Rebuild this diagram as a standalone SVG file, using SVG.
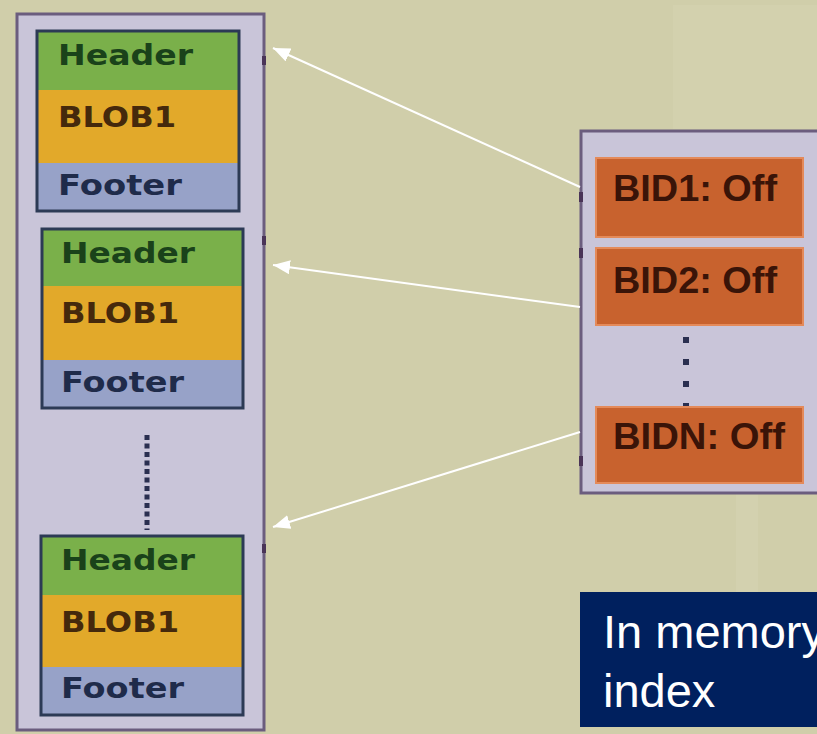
<svg xmlns="http://www.w3.org/2000/svg" width="817" height="734" viewBox="0 0 817 734">
<defs>
<marker id="ah" markerUnits="userSpaceOnUse" markerWidth="18" markerHeight="14" refX="17" refY="7" orient="auto">
<path d="M0,0 L17,7 L0,14 z" fill="#FFFFFF"/>
</marker>
</defs>
<style>
.cont{fill:#C9C5D9;stroke:#6B5D7E;stroke-width:3}
.hdr{fill:#7AB04A}
.blob{fill:#E2A92A}
.ftr{fill:#97A2C8}
.frame{fill:none;stroke:#2C3A55;stroke-width:3}
.t{font-family:"DejaVu Sans",sans-serif;font-weight:bold;font-size:29px}
.th{fill:#1A421A}
.tb{fill:#45290C}
.tf{fill:#1F2B4A}
.bid{fill:#C8622E;stroke:#E48A5A;stroke-width:2}
.tbid{font-family:"Liberation Sans",Arial,sans-serif;font-weight:bold;font-size:36px;fill:#3A1408}
.conn{stroke:#FFFFFF;stroke-width:2;fill:none}
.tick{fill:#4A3458}
</style>
<rect width="817" height="734" fill="#D0CEAA"/>
<rect x="673" y="5" width="144" height="124" fill="#D3D1AE"/>
<rect x="736" y="494" width="22" height="98" fill="#D3D1AF"/>

<g id="storage">
<rect class="cont" x="17" y="14" width="247" height="716"/>
<rect class="tick" x="262" y="56" width="4" height="9"/>
<rect class="tick" x="262" y="236" width="4" height="9"/>
<rect class="tick" x="262" y="544" width="4" height="9"/>
</g>

<g id="block1">
<rect class="hdr" x="37" y="31" width="202" height="59"/>
<rect class="blob" x="37" y="90" width="202" height="73"/>
<rect class="ftr" x="37" y="163" width="202" height="48"/>
<rect class="frame" x="37" y="31" width="202" height="180"/>
<text class="t th" x="58" y="65" textLength="135" lengthAdjust="spacingAndGlyphs">Header</text>
<text class="t tb" x="58" y="127" textLength="118" lengthAdjust="spacingAndGlyphs">BLOB1</text>
<text class="t tf" x="58" y="195" textLength="124" lengthAdjust="spacingAndGlyphs">Footer</text>
</g>

<g id="block2">
<rect class="hdr" x="42" y="229" width="201" height="57"/>
<rect class="blob" x="42" y="286" width="201" height="74"/>
<rect class="ftr" x="42" y="360" width="201" height="48"/>
<rect class="frame" x="42" y="229" width="201" height="179"/>
<text class="t th" x="61" y="263" textLength="134" lengthAdjust="spacingAndGlyphs">Header</text>
<text class="t tb" x="61" y="323" textLength="118" lengthAdjust="spacingAndGlyphs">BLOB1</text>
<text class="t tf" x="61" y="392" textLength="123" lengthAdjust="spacingAndGlyphs">Footer</text>
</g>

<g id="dots-left">
<line x1="147" y1="435" x2="147" y2="530" stroke="#2A2F50" stroke-width="5" stroke-dasharray="5 3.5"/>
</g>

<g id="block3">
<rect class="hdr" x="41" y="536" width="202" height="59"/>
<rect class="blob" x="41" y="595" width="202" height="72"/>
<rect class="ftr" x="41" y="667" width="202" height="48"/>
<rect class="frame" x="41" y="536" width="202" height="179"/>
<text class="t th" x="61" y="570" textLength="134" lengthAdjust="spacingAndGlyphs">Header</text>
<text class="t tb" x="61" y="632" textLength="118" lengthAdjust="spacingAndGlyphs">BLOB1</text>
<text class="t tf" x="61" y="698" textLength="123" lengthAdjust="spacingAndGlyphs">Footer</text>
</g>

<g id="index">
<rect class="cont" x="581" y="131" width="260" height="362" stroke-width="4"/>
<rect class="tick" x="579" y="192" width="4" height="10"/>
<rect class="tick" x="579" y="248" width="4" height="10"/>
<rect class="tick" x="579" y="456" width="4" height="10"/>
</g>

<g id="bid1">
<rect class="bid" x="596" y="158" width="207" height="79"/>
<text class="tbid" x="613" y="201" textLength="164" lengthAdjust="spacingAndGlyphs">BID1: Off</text>
</g>
<g id="bid2">
<rect class="bid" x="596" y="248" width="207" height="77"/>
<text class="tbid" x="613" y="293" textLength="164" lengthAdjust="spacingAndGlyphs">BID2: Off</text>
</g>
<g id="dots-right">
<line x1="686" y1="337" x2="686" y2="408" stroke="#2A2F50" stroke-width="6" stroke-dasharray="6 16"/>
</g>
<g id="bidn">
<rect class="bid" x="596" y="407" width="207" height="76"/>
<text class="tbid" x="613" y="449" textLength="172" lengthAdjust="spacingAndGlyphs">BIDN: Off</text>
</g>

<g id="connectors">
<line class="conn" x1="580" y1="187" x2="273" y2="48" marker-end="url(#ah)"/>
<line class="conn" x1="580" y1="307" x2="273" y2="265" marker-end="url(#ah)"/>
<line class="conn" x1="580" y1="432" x2="273" y2="527" marker-end="url(#ah)"/>
</g>

<g id="label">
<rect x="580" y="592" width="245" height="135" fill="#00205E"/>
<text font-family="Liberation Sans, Arial, sans-serif" font-size="47" fill="#FFFFFF"><tspan x="603" y="648">In memory</tspan><tspan x="603" y="707">index</tspan></text>
</g>
</svg>
